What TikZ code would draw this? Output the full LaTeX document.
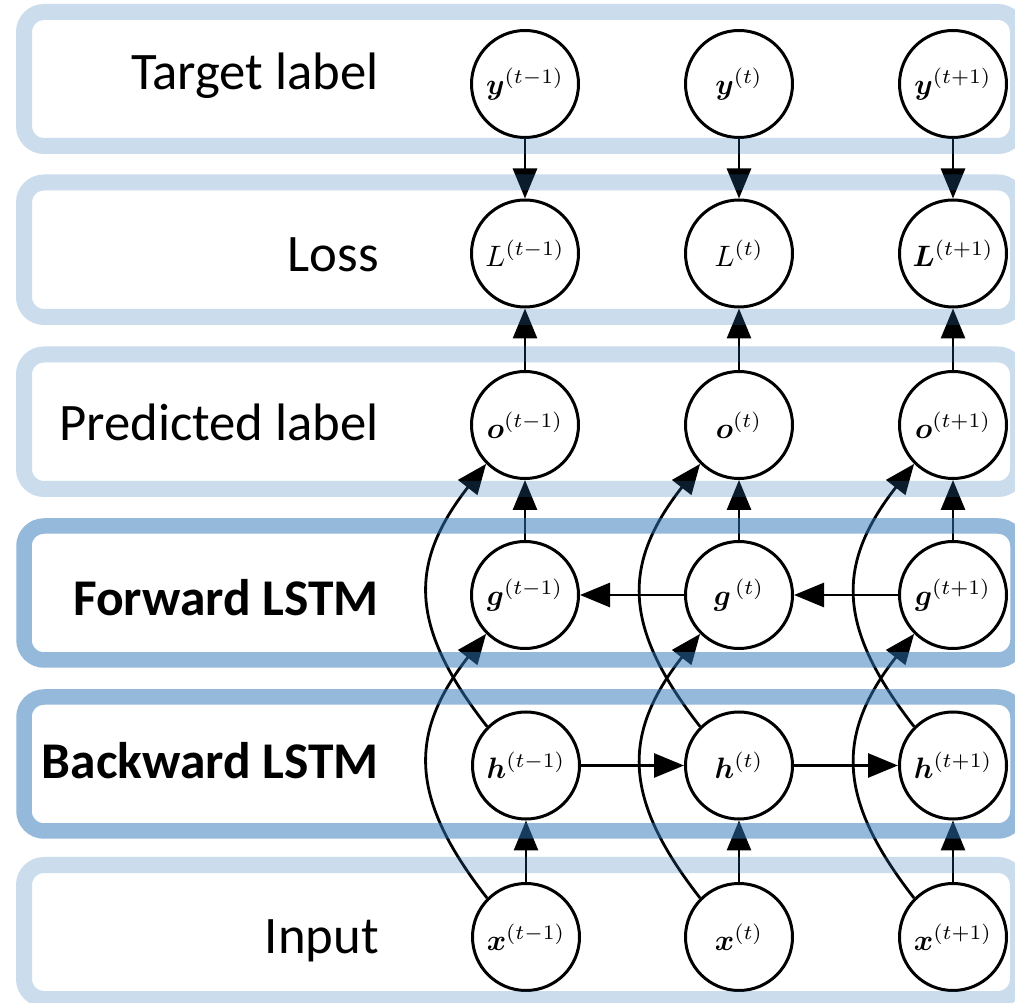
\documentclass[tikz,border=0pt]{standalone}
\usepackage{amsmath}
\usepackage{bm}
\usepackage{graphicx}
\usepackage[no-math]{fontspec}
\setmainfont{Carlito}
\usetikzlibrary{arrows.meta}
\definecolor{bandblue}{RGB}{46,117,182}
\newcommand{\bigmath}[1]{\scalebox{2.95}{$#1$}}
\begin{document}
\begin{tikzpicture}[x=1pt,y=1pt,
  var/.style={circle,draw,line width=3pt,minimum size=107pt,inner sep=0pt,fill=white},
  conn/.style={line width=2.8pt,-{Triangle[length=30pt,width=24pt]}},
  lightband/.style={draw=bandblue,draw opacity=0.25,line width=16pt,rounded corners=20pt},
  darkband/.style={draw=bandblue,draw opacity=0.51,line width=15.5pt,rounded corners=20pt},
  rowlabel/.style={anchor=base east,inner sep=0pt,font=\fontsize{52.7}{60}\selectfont},
  boldlabel/.style={anchor=base east,inner sep=0pt,font=\fontsize{51.5}{58}\selectfont\bfseries}]
\useasboundingbox (0,0) rectangle (1015,1002);
\clip (0,0) rectangle (1015,1002);
% row labels
\node[rowlabel] (lt) at (379,912) {Target label};
\node[rowlabel] (ll) at (379,730) {Loss};
\node[rowlabel] (lp) at (379,561) {Predicted label};
\node[boldlabel] (lf) at (379,386) {Forward LSTM};
\node[boldlabel] (lb) at (379,223) {Backward LSTM};
\node[rowlabel] (li) at (379,49) {Input};
% variables
\node[var] (y1) at (525,918) {\bigmath{\bm{y}^{(t-1)}}};
\node[var] (y2) at (739,918) {\bigmath{\bm{y}^{(t)}}};
\node[var] (y3) at (953,918) {\bigmath{\bm{y}^{(t+1)}}};
\node[var] (L1) at (525,748.5) {\bigmath{L^{(t-1)}}};
\node[var] (L2) at (739,748.5) {\bigmath{L^{(t)}}};
\node[var] (L3) at (953,748.5) {\bigmath{\bm{L}^{(t+1)}}};
\node[var] (o1) at (525,577) {\bigmath{\bm{o}^{(t-1)}}};
\node[var] (o2) at (739,577) {\bigmath{\bm{o}^{(t)}}};
\node[var] (o3) at (953,577) {\bigmath{\bm{o}^{(t+1)}}};
\node[var] (g1) at (525,407) {\bigmath{\bm{g}^{(t-1)}}};
\node[var] (g2) at (739,407) {\bigmath{\bm{g}^{\,(t)}}};
\node[var] (g3) at (953,407) {\bigmath{\bm{g}^{(t+1)}}};
\node[var] (h1) at (526,236.5) {\bigmath{\bm{h}^{(t-1)}}};
\node[var] (h2) at (739,236.5) {\bigmath{\bm{h}^{(t)}}};
\node[var] (h3) at (953,236.5) {\bigmath{\bm{h}^{(t+1)}}};
\node[var] (x1) at (526,65) {\bigmath{\bm{x}^{(t-1)}}};
\node[var] (x2) at (739,65) {\bigmath{\bm{x}^{(t)}}};
\node[var] (x3) at (953,65) {\bigmath{\bm{x}^{(t+1)}}};
% connectors
\foreach \c in {1,2,3} {
  \draw[conn] (y\c) -- (L\c);
  \draw[conn] (o\c) -- (L\c);
  \draw[conn] (g\c) -- (o\c);
  \draw[conn] (x\c) -- (h\c);
  \draw[conn] (h\c.135) .. controls +(-78,100) and +(-78,-100) .. (o\c.225);
  \draw[conn] (x\c.135) .. controls +(-78,100) and +(-78,-100) .. (g\c.225);
}
\draw[conn] (g2) -- (g1);
\draw[conn] (g3) -- (g2);
\draw[conn] (h1) -- (h2);
\draw[conn] (h2) -- (h3);
% row boxes
\draw[lightband] (24,856) rectangle (1018,990);
\draw[lightband] (24,685) rectangle (1018,819.5);
\draw[lightband] (24,513) rectangle (1018,647.5);
\draw[darkband] (24,342) rectangle (1018,476);
\draw[darkband] (24,171) rectangle (1018,305);
\draw[lightband] (24,3) rectangle (1018,137);
\end{tikzpicture}
\end{document}
